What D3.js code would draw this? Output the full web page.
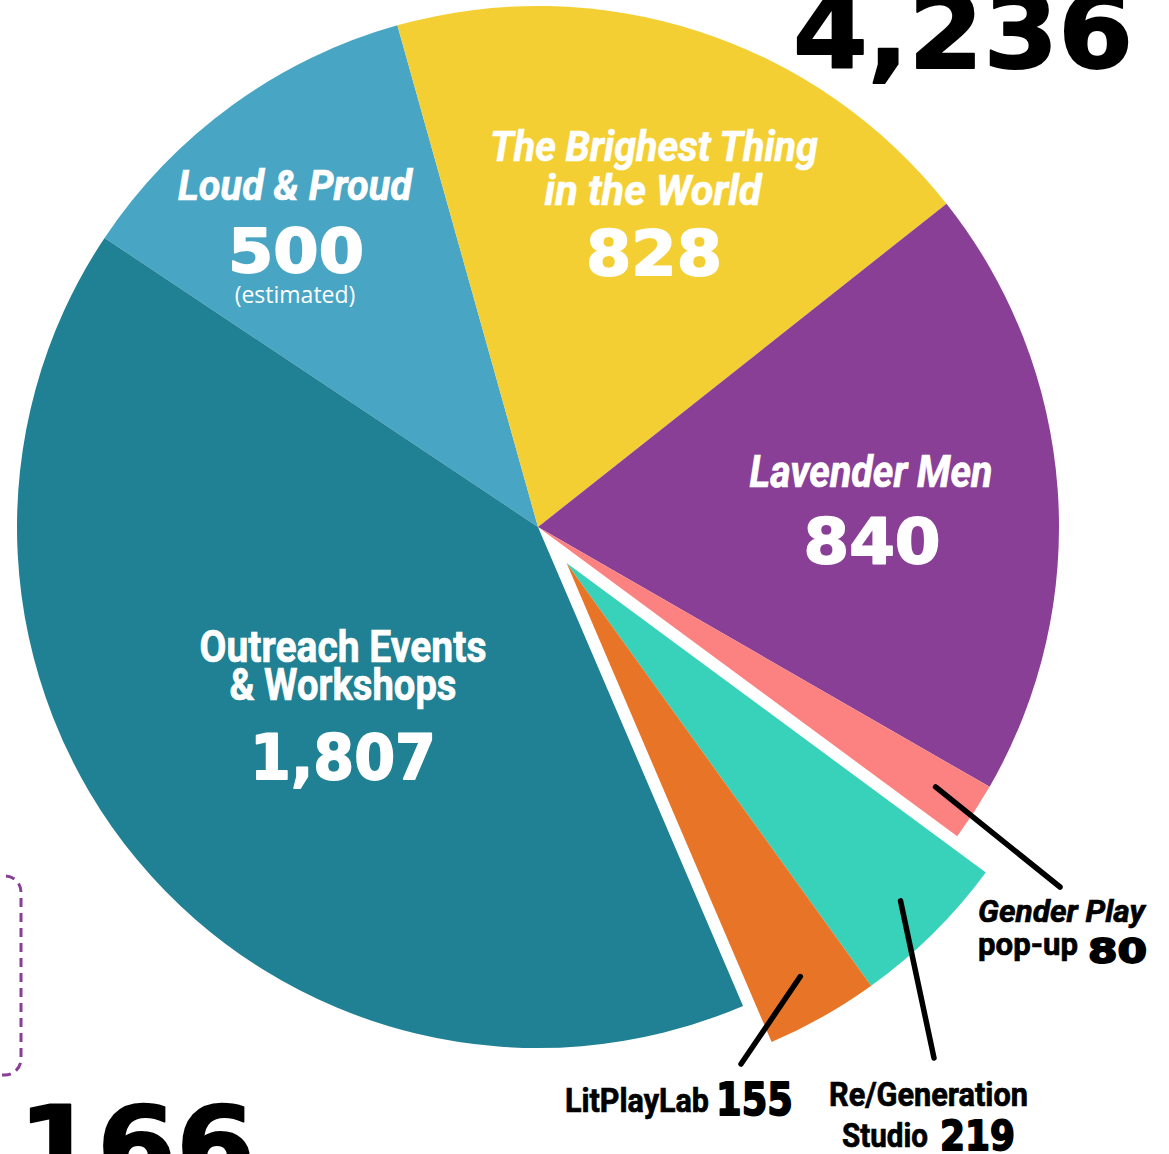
<html><head>
<meta charset="utf-8">
<title>Attendance by program</title>
<script type="text/javascript" src="https://d3js.org/d3.v7.min.js"></script>
<style>
  body { margin: 0; background: #fff; }
  svg { display: block; }
  .title { font-family: Roboto, "Liberation Sans", sans-serif; font-weight: bold; stroke-width: 0.7px; }
  .num { font-family: "DejaVu Sans", sans-serif; font-weight: bold; stroke-width: 1.8px; stroke-linejoin: round; }
</style>
</head>
<body>
<div id="chart"></div>
<script>

// data
var programs = ["Loud & Proud", "The Brighest Thing in the World", "Lavender Men",
                "Gender Play pop-up", "Re/Generation Studio", "LitPlayLab",
                "Outreach Events & Workshops"];
var attendance = [500, 828, 840, 80, 219, 155, 1807];
var valueLabels = ["500", "828", "840", "80", "219", "155", "1,807"];
var sliceColors = ["#48a5c4", "#f4cf34", "#883f95", "#fb8280", "#37d2b9", "#e87527", "#1f8193"];
var exploded = [false, false, false, false, true, true, false];
var headlineTotal = "4,236";
var otherTotal = "166";

// layout
var W = 1169, H = 1154;
var cx = 538, cy = 527, R = 521;
var startDeg = -56.3;   // where Loud & Proud begins
var explode = 46;

var svg = d3.select("#chart")
  .append("svg")
    .attr("width", W)
    .attr("height", H);

var pie = d3.pie()
    .sort(null)
    .value(function(d) { return d; })
    .startAngle(startDeg * Math.PI / 180)
    .endAngle(startDeg * Math.PI / 180 + 2 * Math.PI);

var arcs = pie(attendance);

var arc = d3.arc()
    .innerRadius(0)
    .outerRadius(R);

// exploded group (regen + litplay) moves out along its shared mid angle
var grp = arcs.filter(function(d, i) { return exploded[i]; });
var grpMid = (grp[0].startAngle + grp[grp.length - 1].endAngle) / 2;
var offX = explode * Math.sin(grpMid);
var offY = -explode * Math.cos(grpMid);

function sliceOffset(i) {
  return exploded[i] ? [offX, offY] : [0, 0];
}

var g = svg.append("g")
    .attr("transform", "translate(" + cx + "," + cy + ")");

g.selectAll("path.slice")
  .data(arcs)
  .enter().append("path")
    .attr("class", "slice")
    .attr("fill", function(d, i) { return sliceColors[i]; })
    .attr("transform", function(d, i) {
      var o = sliceOffset(i);
      return "translate(" + o[0] + "," + o[1] + ")";
    })
    .attr("d", arc);

// leader lines for the small slices
var leaderR = 475;
var leaderEnds = { 3: [1060, 887], 4: [934, 1058], 5: [741, 1064] };
Object.keys(leaderEnds).forEach(function(k) {
  var i = +k, d = arcs[i];
  var mid = (d.startAngle + d.endAngle) / 2;
  var o = sliceOffset(i);
  var x0 = cx + o[0] + leaderR * Math.sin(mid);
  var y0 = cy + o[1] - leaderR * Math.cos(mid);
  svg.append("line")
    .attr("x1", x0).attr("y1", y0)
    .attr("x2", leaderEnds[k][0]).attr("y2", leaderEnds[k][1])
    .attr("stroke", "#000")
    .attr("stroke-width", 5.5)
    .attr("stroke-linecap", "round");
});

// text squeezed / stretched to the width it has in the poster
function fitText(cls, x, y, txt, size, width, opts) {
  opts = opts || {};
  var col = opts.fill || "#fff";
  var t = svg.append("text")
    .attr("class", cls)
    .attr("text-anchor", opts.anchor || "middle")
    .style("font-size", size + "px")
    .style("font-style", opts.italic ? "italic" : "normal")
    .attr("fill", col)
    .attr("stroke", col)
    .text(txt);
  var sx = width / t.node().getComputedTextLength();
  t.attr("transform", "translate(" + x + "," + y + ") scale(" + sx + ",1)");
  return t;
}
var ink = { fill: "#000", anchor: "start" };

// inside labels
fitText("title", 295, 200, "Loud & Proud", 42, 234, { italic: true });
fitText("num", 296, 272, valueLabels[0], 60, 136);
svg.append("text")
  .attr("x", 295).attr("y", 303)
  .attr("text-anchor", "middle")
  .style("font-family", "'Open Sans', 'Noto Sans', sans-serif")
  .style("font-size", "23px")
  .attr("fill", "#fff")
  .text("(estimated)");

fitText("title", 654, 161, "The Brighest Thing", 43, 328, { italic: true });
fitText("title", 653, 205, "in the World", 43, 217, { italic: true });
fitText("num", 654, 275, valueLabels[1], 62, 136);

fitText("title", 871, 487, "Lavender Men", 45, 243, { italic: true });
fitText("num", 872, 563, valueLabels[2], 62, 137);

fitText("title", 343, 662, "Outreach Events", 44, 287);
fitText("title", 343, 700, "& Workshops", 44, 227);
fitText("num", 343, 779, valueLabels[6], 63, 186);

// outside labels
fitText("title", 978, 922, "Gender Play", 32, 167, { italic: true, fill: "#000", anchor: "start" });
fitText("title", 978, 955, "pop-up", 32, 100, ink);
fitText("num", 1088, 963, valueLabels[3], 34, 59, ink);

fitText("title", 565, 1112, "LitPlayLab", 34, 144, ink);
fitText("num", 716, 1115, valueLabels[5], 44, 77, ink);

fitText("title", 829, 1106, "Re/Generation", 33, 199, ink);
fitText("title", 842, 1147, "Studio", 33, 86, ink);
fitText("num", 940, 1150, valueLabels[4], 40, 75, ink);

// neighbouring bits of the infographic
fitText("num", 793, 68, headlineTotal, 104, 340, ink);
fitText("num", 18, 1184, otherTotal, 108, 237, ink);

svg.append("rect")
  .attr("x", -40).attr("y", 876)
  .attr("width", 61).attr("height", 199)
  .attr("rx", 16).attr("ry", 16)
  .attr("fill", "none")
  .attr("stroke", "#883f95")
  .attr("stroke-width", 3)
  .attr("stroke-dasharray", "9,6");

</script>
</body></html>
